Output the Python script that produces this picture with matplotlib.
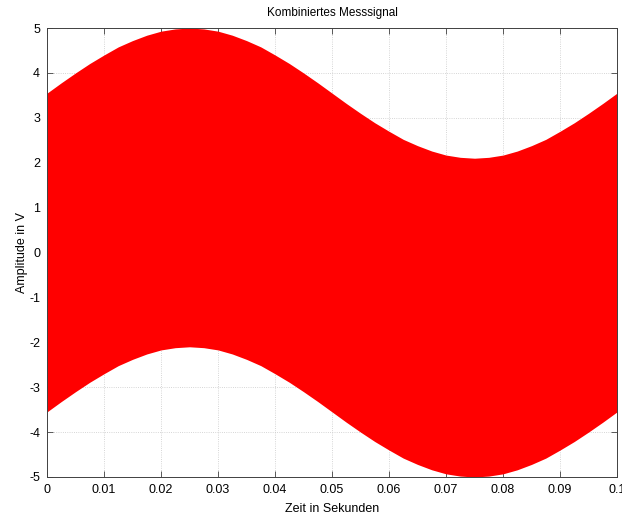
import numpy as np
import matplotlib
matplotlib.use("Agg")
import matplotlib.pyplot as plt
from matplotlib.ticker import FixedLocator

plt.rcParams['font.family'] = ['Liberation Sans', 'DejaVu Sans']
plt.rcParams['axes.unicode_minus'] = False

# envelope of the dense combined signal
t = [0.0, 0.0025, 0.005, 0.0075, 0.01, 0.0125, 0.015, 0.0175, 0.02, 0.0225,
     0.025, 0.0275, 0.03, 0.0325, 0.035, 0.0375, 0.04, 0.0425, 0.045, 0.0475,
     0.05, 0.0525, 0.055, 0.0575, 0.06, 0.0625, 0.065, 0.0675, 0.07, 0.0725,
     0.075, 0.0775, 0.08, 0.0825, 0.085, 0.0875, 0.09, 0.0925, 0.095, 0.0975, 0.1]
upper = [3.55, 3.78, 4.00, 4.21, 4.40, 4.58, 4.72, 4.84, 4.93, 4.98,
         5.00, 4.98, 4.93, 4.84, 4.72, 4.58, 4.40, 4.21, 4.00, 3.78,
         3.55, 3.32, 3.10, 2.89, 2.70, 2.52, 2.38, 2.26, 2.17, 2.12,
         2.10, 2.12, 2.17, 2.26, 2.38, 2.52, 2.70, 2.89, 3.10, 3.32, 3.55]
lower = [-3.55, -3.32, -3.10, -2.89, -2.70, -2.52, -2.38, -2.26, -2.17, -2.12,
         -2.10, -2.12, -2.17, -2.26, -2.38, -2.52, -2.70, -2.89, -3.10, -3.32,
         -3.55, -3.78, -4.00, -4.21, -4.40, -4.58, -4.72, -4.84, -4.93, -4.98,
         -5.00, -4.98, -4.93, -4.84, -4.72, -4.58, -4.40, -4.21, -4.00, -3.78, -3.55]

xticks = [0, 0.01, 0.02, 0.03, 0.04, 0.05, 0.06, 0.07, 0.08, 0.09, 0.1]
xlabels = ['0', '0.01', '0.02', '0.03', '0.04', '0.05', '0.06', '0.07', '0.08', '0.09', '0.1']
yticks = [-5, -4, -3, -2, -1, 0, 1, 2, 3, 4, 5]

fig = plt.figure(figsize=(6.22, 5.17), dpi=100)
ax = fig.add_axes([0.0756, 0.0774, 0.9164, 0.8684])

ax.fill_between(t, lower, upper, color='#ff0000', linewidth=0, antialiased=True)

ax.set_xlim(0, 0.1)
ax.set_ylim(-5, 5)
ax.xaxis.set_major_locator(FixedLocator(xticks))
ax.set_xticklabels(xlabels)
ax.yaxis.set_major_locator(FixedLocator(yticks))
ax.set_yticklabels([str(v) for v in yticks])
ax.set_axisbelow(True)
ax.grid(True, color='#c8c8c8', linestyle=':', linewidth=0.6)
ax.tick_params(direction='in', top=True, right=True, length=4, width=0.6,
               color='#404040', labelsize=9, pad=5)
for s in ax.spines.values():
    s.set_color('#404040')
    s.set_linewidth(0.7)

ax.set_title('Kombiniertes Messsignal', fontsize=8.5, pad=9)
ax.set_xlabel('Zeit in Sekunden', fontsize=9, labelpad=5)
ax.set_ylabel('Amplitude in V', fontsize=9, labelpad=1)

fig.savefig('out.png', dpi=100)
